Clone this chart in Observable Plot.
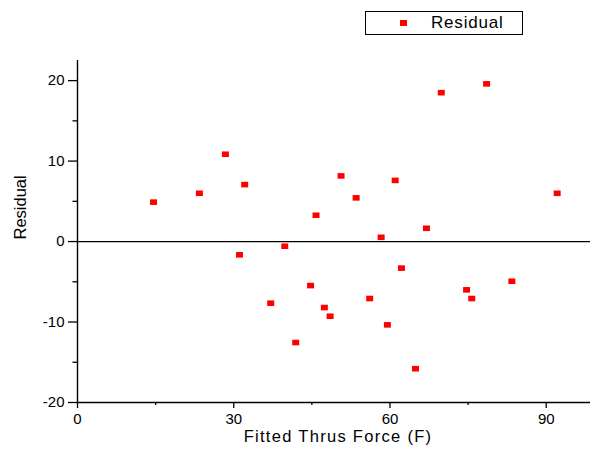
<!DOCTYPE html>
<html>
<head>
<meta charset="utf-8">
<script src="https://cdn.jsdelivr.net/npm/d3@7"></script>
<script src="https://cdn.jsdelivr.net/npm/@observablehq/plot@0.6"></script>
<style>
  html, body { margin: 0; padding: 0; background: #fff; }
  #wrap { position: relative; width: 590px; height: 451px; font-family: "Liberation Sans", Arial, sans-serif; }
  #legend { position: absolute; left: 365px; top: 11px; width: 156px; height: 22px; border: 1px solid #000; background: #fff; }
  #legend .sw { position: absolute; left: 34px; top: 8px; width: 7px; height: 6px; background: #ff0000; }
  #legend .lb { position: absolute; left: 65px; top: 1px; font-size: 17px; letter-spacing: 0.8px; color: #000; line-height: 20px; }
</style>
</head>
<body>
<div id="wrap">
  <div id="chart"></div>
  <div id="legend"><div class="sw"></div><div class="lb">Residual</div></div>
</div>
<script>
const fitted = [14.6, 23.4, 28.4, 32.1, 31.1, 39.8, 37.1, 41.9, 58.3, 67.0, 62.2, 44.75, 47.4, 48.5, 56.1, 59.5, 64.9, 74.7, 75.7, 83.4, 69.85, 78.55, 50.6, 61.0, 53.5, 45.8, 92.1];
const residual = [4.9, 6.0, 10.85, 7.08, -1.65, -0.58, -7.66, -12.55, 0.53, 1.65, -3.3, -5.47, -8.2, -9.28, -7.08, -10.35, -15.8, -6.0, -7.08, -4.93, 18.5, 19.6, 8.16, 7.6, 5.43, 3.27, 6.0];
const xMajor = [0, 30, 60, 90];
const xMinor = [15, 45, 75];
const yMajor = [-20, -10, 0, 10, 20];
const yMinor = [-15, -5, 5, 15];
const xTitle = "Fitted Thrus Force (F)";
const yTitle = "Residual";

const data = fitted.map((x, i) => ({x, y: residual[i]}));
const rectSymbol = { draw(ctx) { ctx.rect(-3.5, -2.8, 7, 5.6); } };
const font = "Liberation Sans, Arial, sans-serif";

const chart = Plot.plot({
  width: 590,
  height: 451,
  marginLeft: 77,
  marginRight: 0,
  marginTop: 60,
  marginBottom: 49,
  style: { fontFamily: font, background: "#fff", color: "#000", overflow: "visible" },
  x: { domain: [0, 98.5] },
  y: { domain: [-20, 22.5] },
  marks: [
    Plot.ruleY([0], { stroke: "#000", strokeWidth: 1.3 }),
    Plot.ruleX([0], { stroke: "#000", strokeWidth: 1.4 }),
    Plot.ruleY([-20], { stroke: "#000", strokeWidth: 1.4 }),
    Plot.axisY(yMajor, { tickSize: 9, tickPadding: 4, fontSize: 15, label: null, strokeWidth: 1.3, tickFormat: d => d }),
    Plot.axisY(yMinor, { tickSize: 4.5, tickFormat: () => "", label: null, strokeWidth: 1.3 }),
    Plot.axisX(xMajor, { tickSize: 6, tickPadding: 5, fontSize: 15, label: null, strokeWidth: 1.3, tickFormat: d => d }),
    Plot.axisX(xMinor, { tickSize: 3, tickFormat: () => "", label: null, strokeWidth: 1.3 }),
    Plot.dot(data, { x: "x", y: "y", symbol: rectSymbol, fill: "#ff0000", stroke: null, r: 4 }),
    Plot.text([xTitle], { frameAnchor: "bottom", dy: 39, dx: 4, fontSize: 16.5, text: d => d, fill: "#000", style: "letter-spacing:1.3px" }),
    Plot.text([yTitle], { frameAnchor: "left", rotate: -90, dx: -57, dy: 8, fontSize: 16.5, text: d => d, fill: "#000" })
  ]
});
document.getElementById("chart").appendChild(chart);
chart.querySelectorAll("text").forEach(t => {
  if (t.textContent === xTitle) t.setAttribute("letter-spacing", "1.3px");
});
</script>
</body>
</html>
